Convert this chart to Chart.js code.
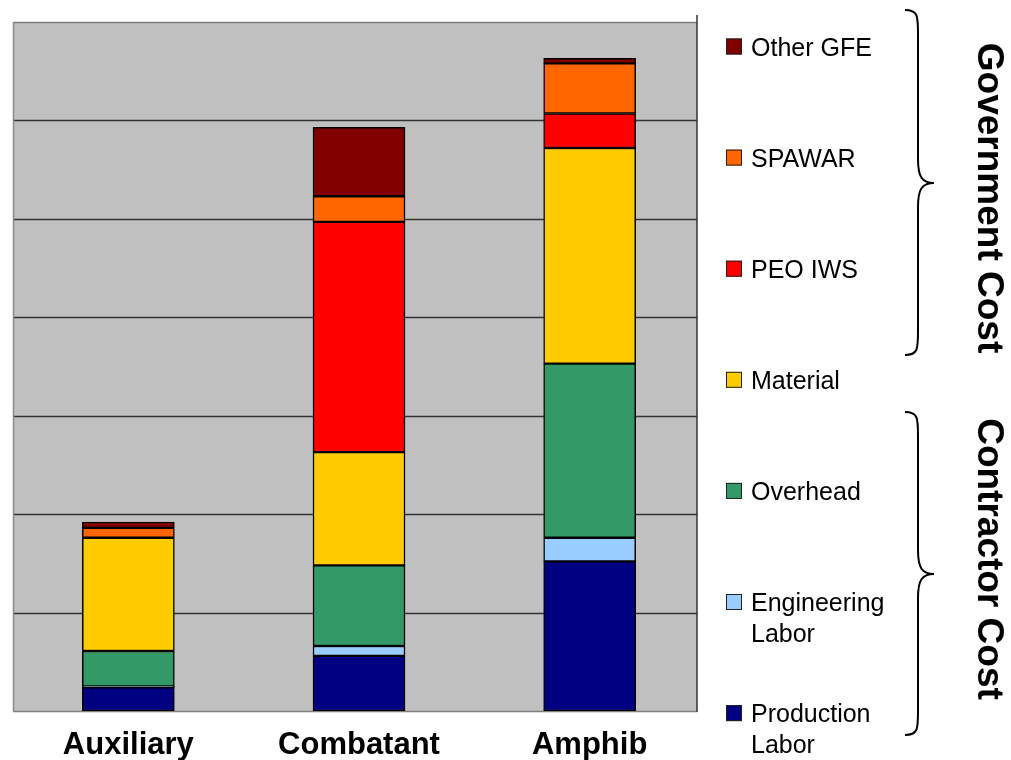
<!DOCTYPE html>
<html>
<head>
<meta charset="utf-8">
<script src="https://cdn.jsdelivr.net/npm/chart.js@4"></script>
<style>
  html, body { margin: 0; padding: 0; background: #fff; }
</style>
</head>
<body>
<canvas id="costChart" width="1011" height="760"></canvas>
<script>
// values, in grid units (one gridline = 1)
const categories = ['Auxiliary', 'Combatant', 'Amphib'];
const productionLabor = [0.24, 0.56, 1.52];
const engineeringLabor = [0.01, 0.10, 0.24];
const overhead = [0.36, 0.82, 1.77];
const material = [1.15, 1.15, 2.19];
const peoIws = [0, 2.34, 0.35];
const spawar = [0.10, 0.26, 0.51];
const otherGfe = [0.06, 0.70, 0.05];
const yMax = 7;

const seriesNames = ['Production Labor', 'Engineering Labor', 'Overhead', 'Material', 'PEO IWS', 'SPAWAR', 'Other GFE'];
const seriesValues = [productionLabor, engineeringLabor, overhead, material, peoIws, spawar, otherGfe];
const seriesColors = ['#000080', '#99ccff', '#339966', '#ffcc00', '#ff0000', '#ff6600', '#800000'];
// legend text, top item first, split where the picture wraps
const legendLines = [['Other GFE'], ['SPAWAR'], ['PEO IWS'], ['Material'], ['Overhead'], ['Engineering', 'Labor'], ['Production', 'Labor']];
const groupTitles = ['Government Cost', 'Contractor Cost'];

const FONT = '"Liberation Sans", Arial, sans-serif';
const PLOT_RIGHT = 697; // grey panel stops a little short of the category axis

function drawBrace(ctx, x0, top, mid, bottom) {
    let x1 = x0 + 13, x2 = x0 + 29, r = 24;
    ctx.beginPath();
    ctx.moveTo(x0, top);
    ctx.bezierCurveTo(x1, top, x1, top + 6, x1, top + r);
    ctx.lineTo(x1, mid - r);
    ctx.bezierCurveTo(x1, mid - 6, x1 + 4, mid, x2, mid);
    ctx.bezierCurveTo(x1 + 4, mid, x1, mid + 6, x1, mid + r);
    ctx.lineTo(x1, bottom - r);
    ctx.bezierCurveTo(x1, bottom - 6, x1, bottom, x0, bottom);
    ctx.stroke();
}

const decorations = {
    id: 'decorations',
    beforeDatasetsDraw(chart) {
        let ctx = chart.ctx, a = chart.chartArea, y = chart.scales.y;
        ctx.save();
        ctx.fillStyle = '#c0c0c0';
        ctx.fillRect(a.left, a.top, PLOT_RIGHT - a.left, a.bottom - a.top);

        // horizontal gridlines from the y scale ticks
        ctx.lineWidth = 1.5;
        y.ticks.forEach(t => {
            let py = Math.round(y.getPixelForValue(t.value)) + 0.5;
            ctx.strokeStyle = (t.value === yMax || t.value === 0) ? '#808080' : '#333';
            ctx.beginPath();
            ctx.moveTo(a.left, py);
            ctx.lineTo(PLOT_RIGHT, py);
            ctx.stroke();
        });

        // left edge grey, right edge dark
        ctx.strokeStyle = '#8a8a8a';
        ctx.beginPath();
        ctx.moveTo(a.left + 0.5, a.top);
        ctx.lineTo(a.left + 0.5, a.bottom);
        ctx.stroke();
        ctx.strokeStyle = '#333';
        ctx.beginPath();
        ctx.moveTo(PLOT_RIGHT, 15);
        ctx.lineTo(PLOT_RIGHT, a.bottom + 1);
        ctx.stroke();
        ctx.restore();
    },
    afterDraw(chart) {
        let ctx = chart.ctx;
        ctx.save();

        // legend, top of the stack first
        let colors = seriesColors.slice().reverse();
        ctx.font = '25px ' + FONT;
        ctx.textAlign = 'left';
        ctx.textBaseline = 'alphabetic';
        legendLines.forEach((lines, i) => {
            let cy = 46.5 + i * 111.1;
            ctx.fillStyle = colors[i];
            ctx.fillRect(726, cy - 8, 16, 16);
            ctx.strokeStyle = '#222';
            ctx.lineWidth = 1;
            ctx.strokeRect(726.5, cy - 7.5, 15, 15);
            ctx.fillStyle = '#000';
            lines.forEach((t, j) => ctx.fillText(t, 751, cy + 9 + j * 31));
        });

        // braces
        ctx.strokeStyle = '#000';
        ctx.lineWidth = 2;
        drawBrace(ctx, 905, 10, 183, 355);
        drawBrace(ctx, 905, 412, 574, 735);

        // rotated group titles
        ctx.fillStyle = '#000';
        ctx.font = 'bold 37px ' + FONT;
        ctx.textAlign = 'center';
        [[groupTitles[0], 198], [groupTitles[1], 559]].forEach(([t, cy]) => {
            ctx.save();
            ctx.translate(978, cy);
            ctx.rotate(Math.PI / 2);
            ctx.fillText(t, 0, 0);
            ctx.restore();
        });
        ctx.restore();
    }
};

let ctx = document.getElementById('costChart').getContext('2d');
new Chart(ctx, {
    type: 'bar',
    data: {
        labels: categories,
        datasets: seriesNames.map((name, i) => ({
            label: name,
            data: seriesValues[i],
            backgroundColor: seriesColors[i],
            borderColor: '#000',
            borderWidth: 1.5,
            borderSkipped: false,
            barThickness: 92
        }))
    },
    options: {
        responsive: false,
        animation: false,
        layout: { padding: { left: 13, top: 22, right: 306, bottom: 0 } },
        plugins: {
            legend: { display: false },
            tooltip: { enabled: false }
        },
        scales: {
            x: {
                stacked: true,
                grid: { display: false, drawTicks: false },
                border: { display: false },
                ticks: {
                    color: '#000',
                    padding: 16,
                    font: { family: FONT, size: 31, weight: 'bold' }
                },
                afterFit: s => { s.height = 49; }
            },
            y: {
                stacked: true,
                min: 0,
                max: yMax,
                ticks: { display: false, stepSize: 1 },
                grid: { display: false, drawTicks: false },
                border: { display: false },
                afterFit: s => { s.width = 0; }
            }
        }
    },
    plugins: [decorations]
});
</script>
</body>
</html>
